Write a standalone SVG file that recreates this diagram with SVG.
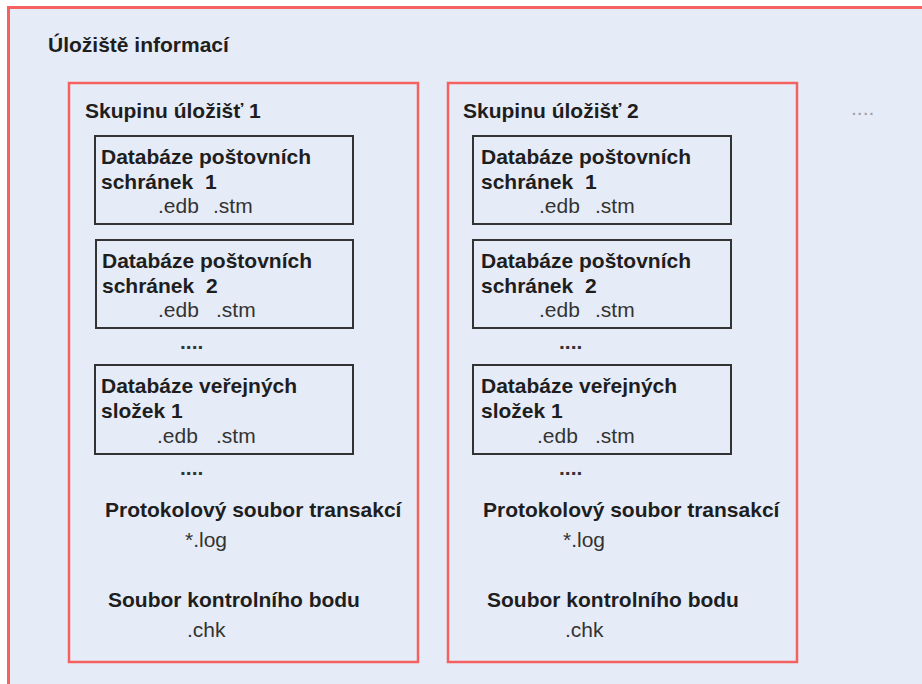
<svg xmlns="http://www.w3.org/2000/svg" width="922" height="684" viewBox="0 0 922 684" font-family="'Liberation Sans', Arial, Helvetica, sans-serif">
<style>
.outer{fill:#E6ECF7;stroke:#F56060;stroke-width:3}
.grp{fill:#E6ECF7;stroke:#F56060;stroke-width:2.5}
.db{fill:#E6ECF7;stroke:#333;stroke-width:2}
text{font-family:'Liberation Sans',Arial,Helvetica,sans-serif;font-size:21px;white-space:pre}
.b{font-weight:bold;fill:#1e1e1e}
.r{fill:#333}
.dots{fill:#333;font-weight:bold}
.dotsl{fill:#9aa0a8}
</style>
<rect x="0" y="0" width="922" height="684" fill="#fff"/>
<g id="store">
<rect class="outer" x="8.5" y="7.5" width="930" height="700"/>
<text class="b" x="48" y="52">Úložiště informací</text>
<text class="dotsl" x="851" y="115">....</text>
</g>
<g id="group1">
<rect class="grp" x="69" y="83" width="349" height="579"/>
<text class="b" x="85" y="118">Skupinu úložišť 1</text>
<g id="g1-db1">
<rect class="db" x="95" y="136" width="258" height="88"/>
<text class="b" x="101" y="164">Databáze poštovních</text>
<text class="b" x="101" y="189" xml:space="preserve">schránek  1</text>
<text class="r" x="158" y="213">.edb</text><text class="r" x="213" y="213">.stm</text>
</g>
<g id="g1-db2">
<rect class="db" x="96" y="240" width="257" height="88"/>
<text class="b" x="102" y="268">Databáze poštovních</text>
<text class="b" x="102" y="293" xml:space="preserve">schránek  2</text>
<text class="r" x="158" y="317">.edb</text><text class="r" x="216" y="317">.stm</text>
</g>
<text class="dots" x="180" y="349">....</text>
<g id="g1-db3">
<rect class="db" x="95" y="365" width="258" height="89"/>
<text class="b" x="101" y="393">Databáze veřejných</text>
<text class="b" x="101" y="418">složek 1</text>
<text class="r" x="157" y="443">.edb</text><text class="r" x="216" y="443">.stm</text>
</g>
<text class="dots" x="180" y="475">....</text>
<g id="g1-log">
<text class="b" x="105" y="517">Protokolový soubor transakcí</text>
<text class="r" x="185" y="547">*.log</text>
</g>
<g id="g1-chk">
<text class="b" x="108" y="607">Soubor kontrolního bodu</text>
<text class="r" x="187" y="637">.chk</text>
</g>
</g>
<g id="group2" transform="translate(379,0)">
<rect class="grp" x="69" y="83" width="349" height="579"/>
<text class="b" x="84" y="118">Skupinu úložišť 2</text>
<g id="g2-db1">
<rect class="db" x="94" y="136" width="258" height="88"/>
<text class="b" x="102" y="164">Databáze poštovních</text>
<text class="b" x="102" y="189" xml:space="preserve">schránek  1</text>
<text class="r" x="160" y="213">.edb</text><text class="r" x="216" y="213">.stm</text>
</g>
<g id="g2-db2">
<rect class="db" x="94" y="240" width="258" height="88"/>
<text class="b" x="102" y="268">Databáze poštovních</text>
<text class="b" x="102" y="293" xml:space="preserve">schránek  2</text>
<text class="r" x="160" y="317">.edb</text><text class="r" x="216" y="317">.stm</text>
</g>
<text class="dots" x="180" y="349">....</text>
<g id="g2-db3">
<rect class="db" x="94" y="365" width="258" height="89"/>
<text class="b" x="102" y="393">Databáze veřejných</text>
<text class="b" x="102" y="418">složek 1</text>
<text class="r" x="158" y="443">.edb</text><text class="r" x="216" y="443">.stm</text>
</g>
<text class="dots" x="180" y="475">....</text>
<g id="g2-log">
<text class="b" x="104" y="517">Protokolový soubor transakcí</text>
<text class="r" x="184" y="547">*.log</text>
</g>
<g id="g2-chk">
<text class="b" x="108" y="607">Soubor kontrolního bodu</text>
<text class="r" x="186" y="637">.chk</text>
</g>
</g>
<g id="connectors"/>
</svg>
